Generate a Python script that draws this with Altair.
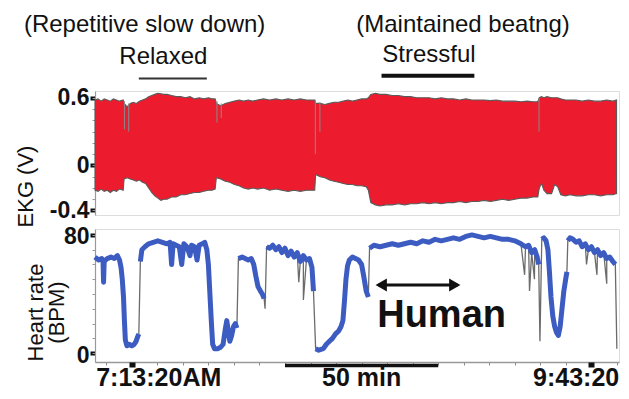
import altair as alt
import pandas as pd

FONT = "Liberation Sans"
RED = "#EC1C2E"
BLUE = "#3D5CC2"
GREY = "#6b6b6b"
INK = "#111111"

# ---------------- EKG envelope (minutes from start, volts) ----------------
ekg_t = [0, 1, 2, 3, 4, 5, 6, 7, 8, 9.2,
         9.5, 10.5, 11.5, 12.5, 13.5, 14.5, 15.5, 16.5, 17.5, 18.5, 19.5, 20.5, 21.5,
         22.5, 23.5, 25, 26.5, 28, 29.5, 31, 32.5, 34, 35.5, 37, 38.2, 39.2,
         39.6, 41, 42.5, 44, 45.5, 47, 48.5, 50, 51.5, 53, 55, 57, 59, 61, 63, 65, 67, 69, 71.7,
         72, 73.5, 75, 76.5, 78, 79.5, 81, 82.5, 84, 85.5, 87, 88.5, 89.2,
         90, 91.5, 93, 95, 97, 99, 101, 103, 105, 107, 109, 111, 113, 115, 117,
         119, 121, 123, 125, 127, 129, 131, 133, 135, 137, 139, 141, 143, 144.5,
         145, 145.7, 146.5, 147.5, 149, 150, 151, 152, 153.5, 155, 157, 159, 161, 163,
         165, 167, 169, 170.2]
ekg_hi = [.58, .59, .57, .59, .58, .57, .59, .58, .57, .58,
          .55, .52, .55, .56, .55, .57, .58, .59, .61, .62, .63, .64, .635,
          .63, .63, .62, .61, .61, .60, .61, .59, .60, .59, .60, .59, .59,
          .55, .53, .55, .56, .57, .58, .57, .58, .57, .58, .59, .58, .59, .58, .59, .58, .59, .58, .58,
          .55, .55, .54, .55, .56, .56, .57, .58, .57, .58, .59, .59, .60,
          .63, .64, .63, .63, .62, .62, .61, .61, .60, .60, .60, .59, .60, .59, .59,
          .58, .59, .58, .58, .58, .575, .58, .57, .57, .57, .565, .57, .565, .565,
          .60, .61, .60, .61, .60, .60, .60, .59, .58, .58, .58, .57, .58, .57,
          .57, .58, .57, .58]
ekg_lo = [-.22, -.23, -.21, -.23, -.22, -.24, -.22, -.23, -.21, -.22,
          -.12, -.11, -.12, -.13, -.14, -.13, -.15, -.16, -.20, -.24, -.27, -.29, -.31,
          -.30, -.30, -.28, -.28, -.26, -.26, -.25, -.24, -.24, -.23, -.22, -.22, -.21,
          -.11, -.12, -.14, -.15, -.17, -.18, -.20, -.21, -.20, -.21, -.20, -.22, -.21, -.22, -.23, -.22, -.23, -.22, -.22,
          -.08, -.10, -.11, -.13, -.14, -.15, -.16, -.17, -.17, -.18, -.18, -.19, -.22,
          -.33, -.35, -.36, -.35, -.35, -.34, -.35, -.34, -.34, -.33, -.34, -.33, -.34, -.33, -.33,
          -.32, -.33, -.32, -.32, -.31, -.32, -.31, -.30, -.31, -.30, -.29, -.29, -.28, -.28,
          -.20, -.16, -.22, -.25, -.25, -.17, -.19, -.26, -.27, -.26, -.27, -.27, -.26, -.26,
          -.27, -.26, -.26, -.25]

# grey dips inside the EKG band
dip_t = [9.6, 11.0, 39.8, 41.2, 71.9, 73.4, 144.9]
dip_hi = [0.57, 0.55, 0.57, 0.55, 0.58, 0.56, 0.60]
dip_lo = [0.32, 0.30, 0.38, 0.42, 0.10, 0.30, 0.30]

# ---------------- heart rate (blue segments) ----------------
hr_seg_t = [
    [0, 1.2, 2.2, 2.6, 2.8, 3.0, 4.0, 5.2, 6.3, 7.3, 8.0, 8.5, 8.9, 9.3, 9.6, 9.9,
     10.4, 11.2, 12.0, 12.8, 13.4, 13.9, 14.3],
    [14.8, 15.3, 16.3, 17.5, 19.0, 20.5, 22.0, 23.5, 24.5, 25.0, 25.5, 26.5, 27.5,
     28.3, 29.0, 30.0, 31.0, 31.5, 32.5, 33.3, 34.0, 35.0, 35.8, 36.5, 37.0, 37.5,
     38.0, 38.4, 39.0, 40.0, 41.0, 41.8, 42.5, 43.0, 43.5, 44.0, 44.6, 45.2, 45.8,
     46.3],
    [46.8, 48.0, 49.0, 50.0, 51.0, 51.8, 52.5, 53.2, 54.0, 54.6, 55.2],
    [56.0, 57.0, 58.0, 59.0, 60.0, 61.0, 62.0, 63.0, 64.0, 65.0, 66.0, 67.0, 68.0,
     69.0, 70.0, 70.8, 71.3],
    [72.0, 73.0, 74.5, 75.5, 76.5, 77.5, 78.5, 79.5, 80.3, 80.9, 81.4, 81.9, 82.4,
     83.0, 84.0, 85.0, 86.0, 87.0, 87.7, 88.5, 89.2],
    [89.6, 91, 93, 95, 97, 99, 101, 103, 105, 107, 109, 111, 113, 115, 117, 119,
     121, 123, 125, 127, 129, 131, 133, 135, 137, 139, 140.5, 141.5, 142.5, 143.5,
     144.3, 144.8],
    [145.8, 146.5, 147.2, 147.8, 148.3, 148.8, 149.4, 150.0, 150.6, 151.2, 151.8,
     152.4, 153.0, 153.6, 154.0],
    [154.3, 155, 156, 157, 158, 159, 160, 161, 162, 163, 164, 165, 166, 167, 168,
     169, 169.8],
]
hr_seg_bpm = [
    [65, 63, 64, 63, 48, 62, 64, 65, 64, 66, 63, 58, 50, 38, 22, 9, 5, 6, 5, 6, 8,
     11, 13],
    [62, 70, 72, 74, 75, 76, 75, 74, 75, 60, 74, 73, 72, 60, 74, 72, 66, 73, 72, 63,
     73, 74, 75, 70, 60, 40, 20, 6, 3, 3, 4, 6, 16, 22, 15, 8, 12, 18, 20, 17],
    [64, 65, 64, 63, 64, 60, 52, 45, 42, 40, 37],
    [72, 71, 73, 70, 72, 68, 71, 66, 69, 65, 68, 62, 66, 63, 64, 58, 42],
    [3, 2, 3, 6, 8, 10, 13, 15, 18, 22, 35, 50, 59, 63, 65, 64, 63, 60, 52, 42, 38],
    [71, 73, 72, 73, 74, 73, 74, 75, 74, 76, 75, 77, 76, 77, 78, 77, 79, 80, 79, 78,
     79, 78, 77, 77, 76, 74, 72, 73, 68, 70, 65, 60],
    [77, 78, 76, 70, 55, 38, 25, 18, 14, 12, 18, 30, 42, 50, 55],
    [76, 78, 77, 75, 76, 72, 74, 70, 72, 68, 70, 66, 68, 64, 65, 62, 60],
]
# extra grey raw-trace excursions
raw_t = [55.5, 66.5, 68.0, 140.2, 141.8, 143.4, 145.2, 160.4, 163.8, 167.0, 170.3]
raw_bpm = [30, 48, 36, 53, 42, 50, 8, 60, 53, 47, 3]

# ---------------- annotations ----------------
top_labels = ["(Repetitive slow down)", "Relaxed", "(Maintained beatng)", "Stressful"]
top_label_t = [16.2, 22.3, 120.1, 109.0]
top_label_v = [1.186, 0.903, 1.186, 0.92]
relaxed_span = [14.3, 36.5]
relaxed_v = 0.77
stress_span = [93.5, 123.8]
stress_v = 0.796

human_label = "Human"
human_t, human_bpm = 113.1, 17.7
arrow_span = [92.5, 118.3]
arrow_bpm = 46.1
arrow_head_t = [93.4, 117.4]

x_labels = ["7:13:20AM", "50 min", "9:43:20"]
x_label_t = [20.8, 87.0, 157.0]
x_label_bpm = -22.2
bar50_span = [62.0, 112.0]
bar50_bpm = -8.3

x_minor_ticks = [3.67, 12, 20.33, 28.67, 37, 45.33, 53.67, 62, 70.33, 78.67, 87,
                 95.33, 103.67, 112, 120.33, 128.67, 137, 145.33, 153.67, 162, 170.33]
x_major_ticks = [12, 162]
v_major_ticks = [-0.4, 0, 0.6]
v_minor_ticks = [-0.4, -0.3, -0.2, -0.1, 0, 0.1, 0.2, 0.3, 0.4, 0.5, 0.6]
b_major_ticks = [0, 80]
b_minor_ticks = [0, 10, 20, 30, 40, 50, 60, 70, 80]

# ---------------- scales / axes ----------------
x_scale = alt.Scale(domain=[0, 171], nice=False, zero=False)
v_scale = alt.Scale(domain=[-0.44, 0.66], nice=False, zero=False)
b_scale = alt.Scale(domain=[-6, 84], nice=False, zero=False)
W, H_TOP, H_BOT = 524, 124, 133

label_kw = dict(labelFont=FONT, labelFontSize=23, labelFontWeight="bold",
                labelColor=INK, labelPadding=1)
title_kw = dict(titleFont=FONT, titleFontSize=22, titleFontWeight="normal",
                titleColor=INK, titleAngle=270, titleBaseline="middle",
                titleAlign="center")

main_v_axis = alt.Axis(orient="left", values=v_major_ticks,
                       labelExpr="replace(format(datum.value, '.1~f'), '\u2212', '-')",
                       tickSize=5, tickWidth=4, tickColor=INK, domainColor="#999",
                       domainWidth=1.2, grid=False, title="EKG (V)",
                       titleX=-70, titleY=95, **label_kw, **title_kw)
minor_v_axis = alt.Axis(orient="left", values=v_minor_ticks, labels=False,
                        domain=False, tickSize=3, tickWidth=1, tickColor="#999",
                        grid=False, title=None)
main_b_axis = alt.Axis(orient="left", values=b_major_ticks, format="d",
                       tickSize=5, tickWidth=4, tickColor=INK, domainColor="#999",
                       domainWidth=1.2, grid=False, title=["Heart rate", "(BPM)"],
                       titleLineHeight=21, titleX=-59.5, titleY=83, labelOffset=2,
                       **label_kw, **title_kw)
minor_b_axis = alt.Axis(orient="left", values=b_minor_ticks, labels=False,
                        domain=False, tickSize=3, tickWidth=1, tickColor="#999",
                        grid=False, title=None)
main_x_axis = alt.Axis(orient="bottom", values=x_minor_ticks, labels=False,
                       tickSize=3, tickWidth=1, tickColor="#888", domainColor="#999",
                       domainWidth=1.5, grid=False, title=None)
major_x_axis = alt.Axis(orient="bottom", values=x_major_ticks, labels=False,
                        domain=False, tickSize=5, tickWidth=6, tickColor=INK,
                        grid=False, title=None)


def nx(field="t"):
    return alt.X(f"{field}:Q", scale=x_scale, axis=None)


# ---------------- top panel ----------------
ekg_df = pd.DataFrame({"t": ekg_t, "hi": ekg_hi, "lo": ekg_lo})
area = alt.Chart(ekg_df).mark_area(fill=RED, stroke="#5a5a5a", strokeWidth=1.1).encode(
    x=nx(), y=alt.Y("hi:Q", scale=v_scale, axis=main_v_axis), y2="lo:Q")

dip_df = pd.DataFrame({"t": dip_t, "hi": dip_hi, "lo": dip_lo})
dips = alt.Chart(dip_df).mark_rule(color="#8a8a8a", strokeWidth=1).encode(
    x=nx(), y=alt.Y("hi:Q", scale=v_scale, axis=minor_v_axis), y2="lo:Q")

top_txt_df = pd.DataFrame({"label": top_labels, "t": top_label_t, "v": top_label_v})
top_txt = alt.Chart(top_txt_df).mark_text(
    font=FONT, fontSize=24, color=INK, align="center", baseline="alphabetic").encode(
    x=nx(), y=alt.Y("v:Q", scale=v_scale, axis=None), text="label:N")

relax_df = pd.DataFrame({"t1": [relaxed_span[0]], "t2": [relaxed_span[1]], "v": [relaxed_v]})
relax_bar = alt.Chart(relax_df).mark_rule(color="#333333", strokeWidth=2).encode(
    x=nx("t1"), x2="t2:Q", y=alt.Y("v:Q", scale=v_scale, axis=None))

stress_df = pd.DataFrame({"t1": [stress_span[0]], "t2": [stress_span[1]], "v": [stress_v]})
stress_bar = alt.Chart(stress_df).mark_rule(color=INK, strokeWidth=4).encode(
    x=nx("t1"), x2="t2:Q", y=alt.Y("v:Q", scale=v_scale, axis=None))

top = alt.layer(area, dips, top_txt, relax_bar, stress_bar).resolve_axis(
    y="independent").properties(width=W, height=H_TOP)

# ---------------- bottom panel ----------------
hr_rows = []
for i, (ts, bs) in enumerate(zip(hr_seg_t, hr_seg_bpm)):
    for t, b in zip(ts, bs):
        hr_rows.append({"t": t, "bpm": b, "seg": i})
hr_df = pd.DataFrame(hr_rows)
raw_df = pd.concat([hr_df[["t", "bpm"]],
                    pd.DataFrame({"t": raw_t, "bpm": raw_bpm})]).sort_values("t")

grey_line = alt.Chart(raw_df).mark_line(color=GREY, strokeWidth=1.3).encode(
    x=alt.X("t:Q", scale=x_scale, axis=main_x_axis),
    y=alt.Y("bpm:Q", scale=b_scale, axis=main_b_axis))

blue_line = alt.Chart(hr_df).mark_line(color=BLUE, strokeWidth=5, strokeJoin="round").encode(
    x=alt.X("t:Q", scale=x_scale, axis=major_x_axis),
    y=alt.Y("bpm:Q", scale=b_scale, axis=minor_b_axis),
    detail="seg:N")

shaft_df = pd.DataFrame({"t1": [arrow_span[0]], "t2": [arrow_span[1]], "bpm": [arrow_bpm]})
shaft = alt.Chart(shaft_df).mark_rule(color=INK, strokeWidth=3).encode(
    x=nx("t1"), x2="t2:Q", y=alt.Y("bpm:Q", scale=b_scale, axis=None))

heads_df = pd.DataFrame({"t": arrow_head_t, "bpm": [arrow_bpm] * 2,
                         "shape": ["triangle-left", "triangle-right"]})
heads = alt.Chart(heads_df).mark_point(filled=True, color=INK, size=170, opacity=1).encode(
    x=nx(), y=alt.Y("bpm:Q", scale=b_scale, axis=None),
    shape=alt.Shape("shape:N", scale=None))

human_df = pd.DataFrame({"label": [human_label], "t": [human_t], "bpm": [human_bpm]})
human = alt.Chart(human_df).mark_text(
    font=FONT, fontSize=38, fontWeight="bold", color=INK, align="center",
    baseline="alphabetic").encode(
    x=nx(), y=alt.Y("bpm:Q", scale=b_scale, axis=None), text="label:N")

xlab_df = pd.DataFrame({"label": x_labels, "t": x_label_t, "bpm": [x_label_bpm] * 3})
xlab = alt.Chart(xlab_df).mark_text(
    font=FONT, fontSize=25, fontWeight="bold", color=INK, align="center",
    baseline="alphabetic").encode(
    x=nx(), y=alt.Y("bpm:Q", scale=b_scale, axis=None), text="label:N")

bar_df = pd.DataFrame({"t1": [bar50_span[0]], "t2": [bar50_span[1]], "bpm": [bar50_bpm]})
bar50 = alt.Chart(bar_df).mark_rule(color=INK, strokeWidth=3.5).encode(
    x=nx("t1"), x2="t2:Q", y=alt.Y("bpm:Q", scale=b_scale, axis=None))

bottom = alt.layer(grey_line, blue_line, shaft, heads, human, xlab, bar50).resolve_axis(
    x="independent", y="independent").properties(width=W, height=H_BOT)

chart = alt.vconcat(top, bottom, spacing=14, bounds="flush").properties(
    padding={"left": 5, "top": 4, "right": 0, "bottom": 0}).configure_view(
    strokeWidth=0).configure(font=FONT)

chart.save("out.html", embed_options={"renderer": "svg", "actions": False})
